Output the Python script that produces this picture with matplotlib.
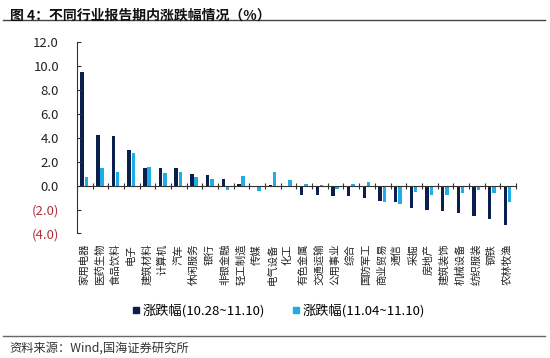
import matplotlib
matplotlib.use("Agg")
import matplotlib.pyplot as plt
from matplotlib.lines import Line2D
import numpy as np

plt.rcParams['font.family'] = ['Noto Sans CJK SC', 'DejaVu Sans']

categories = ["家用电器", "医药生物", "食品饮料", "电子", "建筑材料", "计算机", "汽车",
              "休闲服务", "银行", "非银金融", "轻工制造", "传媒", "电气设备", "化工",
              "有色金属", "交通运输", "公用事业", "综合", "国防军工", "商业贸易", "通信",
              "采掘", "房地产", "建筑装饰", "机械设备", "纺织服装", "钢铁", "农林牧渔"]
series1 = [9.54, 4.24, 4.16, 2.98, 1.45, 1.45, 1.45, 1.00, 0.92, 0.59, 0.14, -0.05,
           0.02, -0.14, -0.78, -0.78, -0.86, -0.89, -1.06, -1.31, -1.39, -1.90, -2.06,
           -2.15, -2.26, -2.51, -2.76, -3.26]
series2 = [0.75, 1.50, 1.17, 2.70, 1.53, 1.03, 1.17, 0.75, 0.59, -0.36, 0.84, -0.47,
           1.17, 0.47, 0.10, 0.05, -0.28, 0.14, 0.30, -1.39, -1.56, -0.53, -0.78,
           -0.78, -0.61, -0.36, -0.64, -1.39]
series_names = ["涨跌幅(10.28~11.10)", "涨跌幅(11.04~11.10)"]
yticks = [-4, -2, 0, 2, 4, 6, 8, 10, 12]

dark = "#0B1F4F"
light = "#1EAEE3"

fig = plt.figure(figsize=(5.5, 3.58), dpi=100)
ax = fig.add_axes([0.14, 0.348, 0.798, 0.534])

x = np.arange(len(categories))
w = 0.22
ax.bar(x - 0.17, series1, width=w, color=dark, label=series_names[0])
ax.bar(x + 0.10, series2, width=w, color=light, label=series_names[1])

ax.set_xlim(-0.5, len(categories) - 0.5)
ax.set_ylim(-4, 12)
ax.set_yticks(yticks)
labels = []
for v in yticks:
    labels.append(f"({abs(v):.1f})" if v < 0 else f"{v:.1f}")
ax.set_yticklabels(labels, fontsize=9.5)
for t, v in zip(ax.get_yticklabels(), yticks):
    t.set_color("#B0303A" if v < 0 else "#222222")
ax.tick_params(axis='y', direction='in', length=3, width=0.8, pad=13, color="#333333")

for s in ['top', 'right']:
    ax.spines[s].set_visible(False)
ax.spines['left'].set_color("#333333")
ax.spines['left'].set_linewidth(0.8)
ax.spines['bottom'].set_position(('data', 0))
ax.spines['bottom'].set_color("#333333")
ax.spines['bottom'].set_linewidth(0.8)
ax.set_xticks(np.arange(0.5, len(categories), 1.0))
ax.set_xticklabels([])
ax.tick_params(axis='x', direction='inout', length=4, width=0.8, color="#333333")

trans = ax.get_xaxis_transform()
for xi, c in zip(x, categories):
    ax.text(xi - 0.05, -0.055, c, transform=trans, ha='center', va='top',
            rotation=90, fontsize=7.5, color="#222222")

handles = [Line2D([], [], marker='s', linestyle='none', color=dark, markersize=5),
           Line2D([], [], marker='s', linestyle='none', color=light, markersize=5)]
fig.legend(handles, series_names, loc='center', bbox_to_anchor=(0.505, 0.133),
           ncol=2, frameon=False, fontsize=9.5, handletextpad=0.1, columnspacing=2.0,
           handlelength=0.8)

fig.text(0.018, 0.975, "图 4：不同行业报告期内涨跌幅情况（%）", fontsize=10,
         fontweight='bold', ha='left', va='top', color="#111111")
fig.add_artist(Line2D([0.005, 0.99], [0.943, 0.943], color="#444444", lw=1.0,
                      transform=fig.transFigure))
fig.add_artist(Line2D([0.005, 0.99], [0.062, 0.062], color="#666666", lw=1.0,
                      transform=fig.transFigure))
fig.text(0.018, 0.027, "资料来源：Wind,国海证券研究所", fontsize=8.8,
         ha='left', va='center', color="#333333")

fig.savefig("out.png", dpi=100, facecolor='white')
